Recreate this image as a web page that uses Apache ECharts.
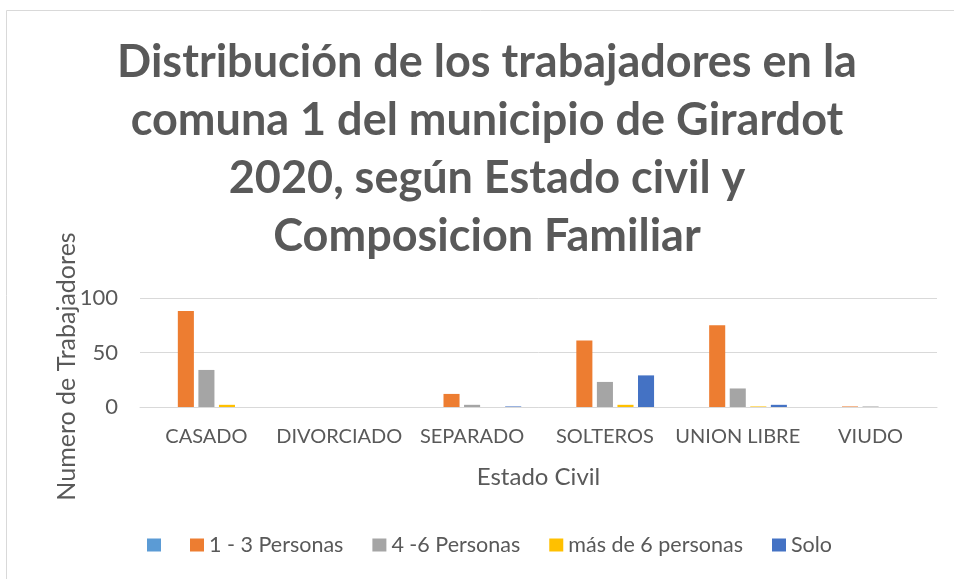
<!DOCTYPE html>
<html>
<head>
<meta charset="utf-8">
<script src="https://cdn.jsdelivr.net/npm/echarts@6/dist/echarts.min.js"></script>
<style>
  html, body { margin: 0; padding: 0; background: #fff; }
  #main { width: 954px; height: 579px; }
</style>
</head>
<body>
<div id="main"></div>
<script>
// estado civil categories
const categories = ['CASADO', 'DIVORCIADO', 'SEPARADO', 'SOLTEROS', 'UNION LIBRE', 'VIUDO'];
// series names (first one is blank in the source sheet)
const seriesNames = [' ', '1 - 3 Personas', '4 -6 Personas', 'más de 6 personas', 'Solo'];
const blankVals = [0, 0, 0, 0, 0, 0];
const unoTres = [88, 0, 12, 61, 75, 0.5];
const cuatroSeis = [34, 0, 2, 23, 17, 0.5];
const masSeis = [2, 0, 0, 2, 0.5, 0];
const solo = [0, 0, 0.5, 29, 2, 0];
const yTicks = [0, 50, 100];

const colors = ['#5B9BD5', '#ED7D31', '#A5A5A5', '#FFC000', '#4472C4'];
const font = 'Lato';
const txt = '#595959';

var chart = echarts.init(document.getElementById('main'));
var values = [blankVals, unoTres, cuatroSeis, masSeis, solo];
var series = values.map(function (v, i) {
  return {
    name: seriesNames[i],
    type: 'bar',
    data: v,
    barGap: '28%',
    barCategoryGap: '26%',
    itemStyle: { color: colors[i] }
  };
});

var legendBase = {
  bottom: 18,
  icon: 'rect',
  itemWidth: 14,
  itemHeight: 13,
  itemGap: 29,
  textStyle: { fontFamily: font, fontSize: 21.5, color: txt }
};

chart.setOption({
  animation: false,
  textStyle: { fontFamily: font },
  title: {
    text: 'Distribución de los trabajadores en la\ncomuna 1 del municipio de Girardot\n2020, según Estado civil y\nComposicion Familiar',
    left: 482,
    textAlign: 'center',
    top: 28,
    textStyle: { fontFamily: font, fontSize: 45, fontWeight: 'bold', color: txt, lineHeight: 58 }
  },
  graphic: [{
    type: 'rect',
    shape: { x: 6.5, y: 10.5, width: 1000, height: 1000 },
    style: { fill: 'none', stroke: '#d9d9d9', lineWidth: 1 },
    silent: true
  }],
  legend: [
    Object.assign({}, legendBase, { data: seriesNames.slice(0, 1), left: 142 }),
    Object.assign({}, legendBase, { data: seriesNames.slice(1), left: 185 })
  ],
  grid: { left: 140, right: 17, top: 298, bottom: 172 },
  xAxis: {
    type: 'category',
    data: categories,
    name: 'Estado Civil',
    nameLocation: 'middle',
    nameGap: 58,
    nameTextStyle: { fontFamily: font, fontSize: 24, color: txt },
    axisLine: { show: true, lineStyle: { color: '#d9d9d9', width: 1 } },
    axisTick: { show: false },
    axisLabel: { interval: 0, fontFamily: font, fontSize: 20, color: txt, margin: 20 }
  },
  yAxis: {
    type: 'value',
    min: yTicks[0],
    max: yTicks[yTicks.length - 1],
    interval: 50,
    name: 'Numero de Trabajadores',
    nameLocation: 'middle',
    nameGap: 61,
    nameMoveOverlap: false,
    nameTextStyle: { fontFamily: font, fontSize: 25, color: txt, padding: [0, 28, 0, 0] },
    axisLine: { show: false },
    axisTick: { show: false },
    axisLabel: { fontFamily: font, fontSize: 22, color: txt, margin: 22 },
    splitLine: { lineStyle: { color: '#d9d9d9', width: 1 } }
  },
  series: series
});
</script>
</body>
</html>
